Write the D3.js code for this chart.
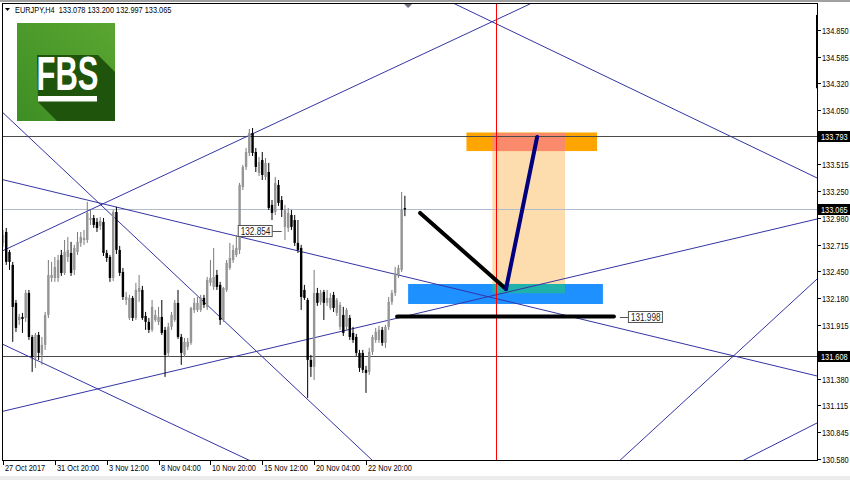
<!DOCTYPE html>
<html><head><meta charset="utf-8">
<script src="https://cdn.jsdelivr.net/npm/d3@7"></script>
<style>
body{margin:0;background:#fff}
svg{display:block}
text{font-family:"Liberation Sans",Arial,sans-serif}
</style>
</head><body>
<svg id="c" width="850" height="480"></svg>
<script>
// ---------- DATA ----------
const symbol = "EURJPY,H4";
const lastQuote = [133.078, 133.200, 132.997, 133.065];
const open = [132.731,132.840,132.641,132.512,132.134,131.964,131.994,131.984,132.233,131.795,131.586,131.815,131.616,131.716,132.014,132.382,132.382,132.382,132.611,132.432,132.591,132.631,132.462,132.641,132.731,132.760,132.760,132.959,132.979,132.940,132.900,132.940,132.631,132.591,132.382,133.039,132.661,132.442,132.163,131.984,132.183,131.984,132.243,132.263,132.004,131.945,131.865,131.964,131.945,131.994,131.865,131.636,131.895,131.964,132.134,131.795,131.616,131.696,131.736,132.064,132.064,132.064,132.183,132.094,132.333,132.293,132.412,132.313,131.964,132.263,132.482,132.561,132.611,132.661,133.288,133.487,133.626,133.825,133.636,133.427,133.556,133.387,133.437,133.109,133.039,133.308,133.158,132.890,132.880,133.009,132.959,132.731,132.681,132.263,132.163,131.566,131.497,132.233,132.144,132.243,132.134,132.084,132.213,132.034,131.895,132.014,131.895,131.984,131.835,131.795,131.636,131.636,131.467,131.447,131.646,131.765,131.765,131.865,131.736,131.895,132.144,132.233,132.412,132.462,133.078];
const high = [132.860,132.880,132.661,132.542,132.163,132.024,132.034,132.263,132.263,131.815,131.835,131.845,131.795,132.044,132.561,132.542,132.591,132.611,132.661,132.760,132.790,132.741,132.711,132.840,132.840,132.860,133.139,133.059,133.009,132.979,132.989,132.979,132.661,132.611,133.059,133.089,132.701,132.482,132.243,132.213,132.203,132.333,132.412,132.303,132.044,131.984,132.163,132.064,132.094,132.163,131.895,131.935,132.044,132.163,132.263,131.825,131.785,131.785,132.094,132.183,132.193,132.213,132.213,132.392,132.561,132.681,132.462,132.343,132.293,132.561,132.731,132.711,132.810,133.328,133.507,133.676,133.865,133.875,133.676,133.586,133.636,133.576,133.527,133.158,133.387,133.357,133.198,133.109,133.079,133.059,133.009,132.959,132.711,132.313,132.183,131.616,132.462,132.283,132.263,132.263,132.263,132.233,132.243,132.183,132.144,132.094,132.084,132.014,131.895,131.825,131.666,131.666,131.507,131.686,131.815,131.885,131.905,131.895,131.915,132.193,132.263,132.492,132.512,133.238,133.200];
const low = [132.691,132.512,132.462,131.746,131.845,131.915,131.835,131.945,131.765,131.447,131.487,131.566,131.517,131.666,131.984,132.343,132.343,132.343,132.402,132.412,132.542,132.402,132.412,132.611,132.691,132.711,132.731,132.910,132.880,132.840,132.860,132.601,132.542,132.343,132.352,132.621,132.402,132.163,132.114,131.964,131.954,131.964,132.144,131.964,131.865,131.835,131.845,131.945,131.915,131.815,131.397,131.596,131.865,131.945,131.775,131.517,131.596,131.666,131.716,132.034,132.044,132.044,132.084,132.064,132.303,132.263,132.263,131.915,131.945,132.243,132.462,132.532,132.591,132.621,133.258,133.457,133.596,133.596,133.437,133.397,133.357,133.357,133.059,132.959,133.009,133.099,132.989,132.760,132.840,132.860,132.701,132.631,132.064,132.163,131.188,131.397,131.367,132.104,132.114,131.964,132.104,132.064,132.044,132.004,131.865,131.805,131.865,131.765,131.736,131.606,131.447,131.437,131.238,131.417,131.616,131.736,131.736,131.706,131.686,131.865,132.114,132.203,132.382,132.442,132.997];
const close = [132.810,132.542,132.542,132.094,131.885,131.994,131.974,132.233,131.795,131.596,131.815,131.636,131.716,132.014,132.412,132.412,132.492,132.561,132.432,132.641,132.661,132.432,132.681,132.741,132.790,132.780,133.029,132.979,132.910,132.880,132.950,132.631,132.581,132.382,133.039,132.661,132.432,132.193,132.193,132.183,131.984,132.263,132.283,131.984,131.945,131.865,132.094,132.014,131.994,131.835,131.616,131.895,132.014,132.134,131.795,131.636,131.746,131.746,132.084,132.134,132.134,132.183,132.114,132.362,132.382,132.392,132.293,131.964,132.283,132.532,132.581,132.661,132.681,133.308,133.487,133.636,133.825,133.626,133.487,133.537,133.407,133.527,133.079,133.029,133.328,133.129,133.059,133.059,133.029,132.890,132.731,132.661,132.193,132.183,131.566,131.497,132.233,132.134,132.233,132.134,132.183,132.183,132.084,132.163,132.114,131.835,132.064,131.795,131.765,131.636,131.487,131.467,131.437,131.646,131.795,131.845,131.865,131.736,131.895,132.144,132.233,132.432,132.482,133.059,133.065];

const timeLabels = ["27 Oct 2017","31 Oct 20:00","3 Nov 12:00","8 Nov 04:00","10 Nov 20:00","15 Nov 12:00","20 Nov 04:00","22 Nov 20:00"];
const timeLabelBars = [0,16,32,48,64,80,96,112];
const priceTicks = [134.850,134.585,134.320,134.050,133.515,133.250,132.980,132.715,132.450,132.180,131.915,131.380,131.115,130.845,130.580];
const levelLines = [133.793, 131.608];
const bidLevel = 133.065;
const markedPrices = [133.793, 133.065, 131.608];

// drawing objects (bar index, price)
const trendLines = [
  [[-0.93,131.048],[251.2,132.969]],
  [[-0.93,133.367],[251.2,131.406]],
  [[-0.93,132.640],[162.6,135.109]],
  [[-0.93,134.054],[114.5,130.55]],
  [[-0.93,131.735],[77.1,130.55]],
  [[122.5,135.372],[251.2,133.377]],
  [[189.8,130.55],[251.2,132.372]],
  [[227.4,130.55],[251.2,130.939]]
];
const zonePeach  = [151, 173.4, 133.825, 132.23];
const zoneOrange = [143, 183.3, 133.830, 133.645];
const zoneBlue   = [125, 185.1, 132.322, 132.123];
const verticalBar = 152;
const pathBlack = [[128.7,133.029],[155.2,132.272]];
const pathNavy  = [[155.2,132.272],[164.8,133.785]];
const supportLevel = {price:131.998, from:121.6, to:188.5};
const priceLabel = {price:132.854, bar:86};
const shiftBar = 125;

// ---------- CHART ----------
const W = 850, H = 480;
const plot = {l:2, r:817, t:3, b:460};
const NARROW = 0.82;
const x = d3.scaleLinear().domain([0,250]).range([3, 3+250*3.241]);
const y = d3.scaleLinear().domain([130.58,134.85]).range([459,30]);
const svg = d3.select("#c");
svg.append("rect").attr("width",W).attr("height",H).attr("fill","#fff");
svg.append("rect").attr("x",0).attr("y",0).attr("width",W).attr("height",2).attr("fill","#a0a0a0");
svg.append("rect").attr("x",0).attr("y",476).attr("width",W).attr("height",4).attr("fill","#ececec");

function ntext(parent, tx, ty, size, fill, txt){
  return parent.append("text")
    .attr("transform",`translate(${tx},${ty}) scale(${NARROW},1)`)
    .attr("font-size",size).attr("fill",fill).text(txt);
}

const defs = svg.append("defs");
defs.append("clipPath").attr("id","clip").append("rect")
  .attr("x",plot.l).attr("y",plot.t).attr("width",plot.r-plot.l).attr("height",plot.b-plot.t);

const g = svg.append("g").attr("clip-path","url(#clip)");

// zones
function zoneRect(z, fill){
  g.append("rect").attr("x",x(z[0])).attr("width",x(z[1])-x(z[0]))
   .attr("y",y(z[2])).attr("height",y(z[3])-y(z[2])).attr("fill",fill);
}
function overlap(a,b){
  return [Math.max(a[0],b[0]), Math.min(a[1],b[1]), Math.min(a[2],b[2]), Math.max(a[3],b[3])];
}
zoneRect(zonePeach,"#fddcae");
zoneRect(zoneOrange,"#ffa500");
zoneRect(zoneBlue,"#1e90ff");
zoneRect(overlap(zonePeach,zoneOrange),"#fa8a6c");
zoneRect(overlap(zonePeach,zoneBlue),"#20b2aa");

// horizontal levels
levelLines.forEach(p=>{
  const yy = Math.round(y(p))+0.5;
  g.append("line").attr("x1",plot.l).attr("x2",plot.r).attr("y1",yy).attr("y2",yy)
   .attr("stroke","#4a4a4a").attr("stroke-width",1);
});
{
  const yy = Math.round(y(bidLevel))+0.5;
  g.append("line").attr("x1",plot.l).attr("x2",plot.r).attr("y1",yy).attr("y2",yy)
   .attr("stroke","#b0bccb").attr("stroke-width",1);
}

// trend lines
const line = d3.line().x(d=>x(d[0])).y(d=>y(d[1]));
trendLines.forEach(t=>{
  g.append("path").attr("d",line(t)).attr("fill","none").attr("stroke","#3434a4").attr("stroke-width",1);
});

// vertical red line
{
  const xx = Math.round(x(verticalBar))+0.5;
  g.append("line").attr("x1",xx).attr("x2",xx).attr("y1",plot.t).attr("y2",plot.b)
   .attr("stroke","#ff0000").attr("stroke-width",1);
}

// candles
const bars = open.map((o,i)=>({i,o,h:high[i],l:low[i],c:close[i]}));
const cg = g.append("g");
bars.forEach(b=>{
  const bull = b.c >= b.o;
  const cx = x(b.i);
  cg.append("line").attr("x1",cx).attr("x2",cx).attr("y1",y(b.h)).attr("y2",y(b.l))
    .attr("stroke", bull ? "#7a7a7a" : "#000").attr("stroke-width",1);
  const top = y(Math.max(b.o,b.c)), bot = y(Math.min(b.o,b.c));
  cg.append("rect").attr("x",cx-1.2).attr("width",2.4)
    .attr("y",top).attr("height",Math.max(1,bot-top))
    .attr("fill", bull ? "#959595" : "#000");
});

// thick analysis lines
g.append("path").attr("d",line(pathBlack)).attr("stroke","#000").attr("stroke-width",4)
  .attr("stroke-linecap","round").attr("fill","none");
g.append("path").attr("d",line(pathNavy)).attr("stroke","#000080").attr("stroke-width",4)
  .attr("stroke-linecap","round").attr("fill","none");
g.append("line").attr("x1",x(supportLevel.from)).attr("x2",x(supportLevel.to))
  .attr("y1",y(supportLevel.price)).attr("y2",y(supportLevel.price))
  .attr("stroke","#000").attr("stroke-width",4).attr("stroke-linecap","round");

// labels of support level and price label
function boxLabel(xLeft, yc, txt){
  g.append("rect").attr("x",xLeft+0.5).attr("y",Math.round(yc-5.5)+0.5).attr("width",34).attr("height",11)
    .attr("fill","#fff").attr("stroke","#555").attr("stroke-width",1);
  ntext(g, xLeft+3, Math.round(yc-5.5)+9.5, 10, "#222", txt);
}
{
  const xe = x(supportLevel.to), yc = y(supportLevel.price);
  g.append("line").attr("x1",xe+6).attr("x2",xe+14).attr("y1",Math.round(yc)+0.5).attr("y2",Math.round(yc)+0.5)
    .attr("stroke","#555");
  boxLabel(xe+14, yc, d3.format(".3f")(supportLevel.price));
}
{
  const xa = x(priceLabel.bar), yc = y(priceLabel.price);
  g.append("line").attr("x1",xa-10).attr("x2",xa).attr("y1",Math.round(yc)+0.5).attr("y2",Math.round(yc)+0.5)
    .attr("stroke","#555");
  boxLabel(xa-44, yc, d3.format(".3f")(priceLabel.price));
}

// frame
svg.append("rect").attr("x",plot.l+0.5).attr("y",plot.t+0.5).attr("width",plot.r-plot.l).attr("height",plot.b-plot.t)
  .attr("fill","none").attr("stroke","#000").attr("stroke-width",1);
// black marker on price scale
svg.append("rect").attr("x",plot.r-1).attr("y",y(135.0)).attr("width",2).attr("height",y(134.27)-y(135.0)).attr("fill","#000");

// shift triangle
{
  const sx = x(shiftBar);
  svg.append("path").attr("d",`M${sx-4},${plot.t+1}L${sx+4},${plot.t+1}L${sx},${plot.t+5}Z`).attr("fill","#6c7080");
}

// price axis
const pa = svg.append("g");
priceTicks.forEach(p=>{
  const yy = Math.round(y(p))+0.5;
  pa.append("line").attr("x1",plot.r+1).attr("x2",plot.r+4).attr("y1",yy).attr("y2",yy).attr("stroke","#000");
  ntext(pa, plot.r+5, yy+3.5, 9, "#000", d3.format(".3f")(p));
});
markedPrices.forEach(p=>{
  const yy = Math.round(y(p));
  pa.append("rect").attr("x",plot.r+1).attr("y",yy-5).attr("width",32).attr("height",11).attr("fill","#000");
  ntext(pa, plot.r+4, yy+4, 9, "#fff", d3.format(".3f")(p));
});

// time axis
const ta = svg.append("g");
timeLabelBars.forEach((b,k)=>{
  const xx = Math.round(x(b))+0.5;
  ta.append("line").attr("x1",xx).attr("x2",xx).attr("y1",plot.b).attr("y2",plot.b+5).attr("stroke","#000");
  ntext(ta, xx+1.5, plot.b+11, 9, "#000", timeLabels[k]);
});

// header
svg.append("path").attr("d","M5,8L10,8L7.5,11Z").attr("fill","#000");
ntext(svg, 15, 13, 9, "#000", symbol + "  " + lastQuote.map(d3.format(".3f")).join(" "))
  .attr("xml:space","preserve");

// FBS logo
{
  const lg = defs.append("linearGradient").attr("id","lg").attr("x1","0").attr("y1","1").attr("x2","1").attr("y2","0");
  lg.append("stop").attr("offset","0").attr("stop-color","#3d8e24");
  lg.append("stop").attr("offset","1").attr("stop-color","#5ba632");
  defs.append("clipPath").attr("id","lclip").append("rect").attr("x",17).attr("y",23).attr("width",98).attr("height",98);
  const L = svg.append("g").attr("clip-path","url(#lclip)");
  L.append("rect").attr("x",17).attr("y",23).attr("width",98).attr("height",98).attr("fill","url(#lg)");
  L.append("path").attr("d","M37,55L98,55L120,77L120,126L62,126L38,102Z").attr("fill","#1f540c");
  L.append("text").attr("x",36.5).attr("y",90).attr("font-size",48).attr("font-weight","bold")
    .attr("textLength",62).attr("lengthAdjust","spacingAndGlyphs").attr("fill","#fff").text("FBS");
  L.append("rect").attr("x",38).attr("y",96).attr("width",59).attr("height",5.5).attr("fill","#fff");
}
</script>
</body></html>
